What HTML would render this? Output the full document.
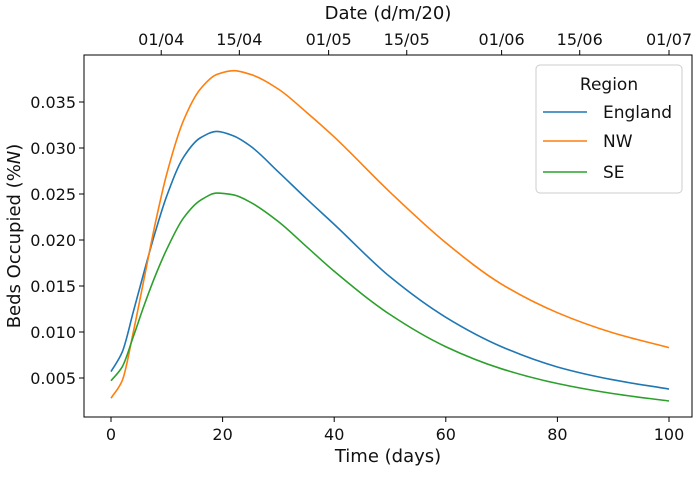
<!DOCTYPE html>
<html><head><meta charset="utf-8"><style>
body{margin:0;background:#fff;}
svg text{font-family:"DejaVu Sans","Liberation Sans",sans-serif;fill:#111;}
</style></head><body>
<svg id="chart" width="700" height="473" xmlns="http://www.w3.org/2000/svg">
<g id="plot"></g>
</svg>
<script>
const days = [0,2,4,6,8,10,13,16,19,22,25,30,35,40,50,60,70,80,90,100];
const england = [0.0057,0.0078,0.0122,0.0167,0.0210,0.0248,0.0290,0.0311,0.0318,0.0313,0.0302,0.0274,0.0245,0.0217,0.0160,0.0116,0.0084,0.0062,0.0048,0.0038];
const nw = [0.0028,0.0047,0.0100,0.0160,0.0220,0.0272,0.0330,0.0364,0.0380,0.0384,0.0380,0.0364,0.0339,0.0312,0.0252,0.0197,0.0152,0.0121,0.0099,0.0083];
const se = [0.0047,0.0062,0.0095,0.0130,0.0162,0.0190,0.0224,0.0243,0.0251,0.0249,0.0241,0.0220,0.0193,0.0166,0.0119,0.0084,0.0060,0.0044,0.0033,0.0025];
const xTicks = [0,20,40,60,80,100];
const yTicks = [0.005,0.010,0.015,0.020,0.025,0.030,0.035];
const yTickLabels = ["0.005","0.010","0.015","0.020","0.025","0.030","0.035"];
const dateDays = [9,23,39,53,70,84,100];
const dateLabels = ["01/04","15/04","01/05","15/05","01/06","15/06","01/07"];

const L=84,R=692,T=55,B=417;
const xs=d=>111+d*5.58;
const ys=v=>378-(v-0.005)/0.005*46;
const NS="http://www.w3.org/2000/svg";
const g=document.getElementById('plot');
function mk(tag,attrs,name,txt){const e=document.createElementNS(NS,tag);for(const k in attrs)e.setAttribute(k,attrs[k]);


if(txt!==undefined)e.textContent=txt;g.appendChild(e);return e;}
mk('rect',{x:L,y:T,width:R-L,height:B-T,fill:'none',stroke:'#000','stroke-width':1},'plot-frame');
xTicks.forEach(t=>{const x=xs(t);
mk('line',{x1:x,x2:x,y1:B,y2:B+5,stroke:'#000'},'x-tick');
mk('text',{x:x,y:B+23,'text-anchor':'middle','font-size':16},'x-tick-label',String(t));});
yTicks.forEach((t,i)=>{const y=ys(t);
mk('line',{x1:L-5,x2:L,y1:y,y2:y,stroke:'#000'},'y-tick');
mk('text',{x:L-8,y:y+6,'text-anchor':'end','font-size':16},'y-tick-label',yTickLabels[i]);});
dateDays.forEach((d,i)=>{const x=xs(d);
mk('line',{x1:x,x2:x,y1:T-5,y2:T,stroke:'#000'},'date-tick');
mk('text',{x:x,y:T-10,'text-anchor':'middle','font-size':16},'date-tick-label',dateLabels[i]);});
mk('text',{x:388,y:462,'text-anchor':'middle','font-size':18},'x-axis-title','Time (days)');
mk('text',{x:388,y:19,'text-anchor':'middle','font-size':18},'top-axis-title','Date (d/m/20)');
const yt=mk('text',{x:20,y:236,'text-anchor':'middle','font-size':18,transform:'rotate(-90 20 236)'},'y-axis-title');
yt.innerHTML='Beds Occupied (%<tspan font-style="italic">N</tspan>)';
function path(vals){
  const n=days.length,x=days.map(xs),y=vals.map(ys);
  const d=[],m=new Array(n);
  for(let i=0;i<n-1;i++)d.push((y[i+1]-y[i])/(x[i+1]-x[i]));
  m[0]=d[0];m[n-1]=d[n-2];
  for(let i=1;i<n-1;i++){
    if(d[i-1]*d[i]<=0)m[i]=0;
    else{const h0=x[i]-x[i-1],h1=x[i+1]-x[i];const w1=2*h1+h0,w2=h1+2*h0;m[i]=(w1+w2)/(w1/d[i-1]+w2/d[i]);}
  }
  let s=`M${x[0]},${y[0]}`;
  for(let i=0;i<n-1;i++){const h=x[i+1]-x[i];
    s+=` C${x[i]+h/3},${y[i]+m[i]*h/3} ${x[i+1]-h/3},${y[i+1]-m[i+1]*h/3} ${x[i+1]},${y[i+1]}`;}
  return s;}
mk('path',{d:path(england),fill:'none',stroke:'#1f77b4','stroke-width':1.6},'england-line');
mk('path',{d:path(nw),fill:'none',stroke:'#ff7f0e','stroke-width':1.6},'nw-line');
mk('path',{d:path(se),fill:'none',stroke:'#2ca02c','stroke-width':1.6},'se-line');
mk('rect',{x:536,y:65,width:146,height:128,rx:4,fill:'#fff',stroke:'#ccc'},'legend-box');
mk('text',{x:609,y:90,'text-anchor':'middle','font-size':17},'legend-title','Region');
[['England','#1f77b4',112],['NW','#ff7f0e',141],['SE','#2ca02c',172]].forEach(([n,c,y])=>{
mk('line',{x1:543,x2:587,y1:y,y2:y,stroke:c,'stroke-width':1.6},'legend-line');
mk('text',{x:603,y:y+6,'font-size':17},'legend-entry',n);});
</script>
</body></html>
